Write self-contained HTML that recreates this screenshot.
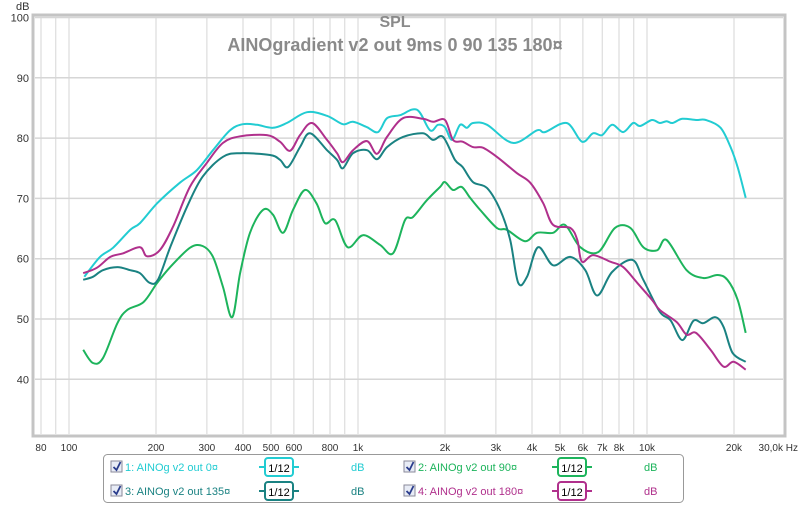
<!DOCTYPE html>
<html><head><meta charset="utf-8"><style>
body{margin:0;background:#fff;font-family:"Liberation Sans",sans-serif;}
#wrap{position:relative;width:800px;height:505px;overflow:hidden;background:#fff}
svg{position:absolute;left:0;top:0}
</style></head><body>
<div id="wrap">
<svg id="chart" width="800" height="505"></svg>
</div>
<script>
const xTickFreqs=[80,100,200,300,400,500,600,800,1000,2000,3000,4000,5000,6000,7000,8000,10000,20000,30000];
const xTickLabels=["80","100","200","300","400","500","600","800","1k","2k","3k","4k","5k","6k","7k","8k","10k","20k","30,0k Hz"];
const xGridFreqs=[80,90,100,200,300,400,500,600,700,800,900,1000,2000,3000,4000,5000,6000,7000,8000,9000,10000,20000];
const yTicks=[40,50,60,70,80,90,100];
const yTickLabels=["40","50","60","70","80","90","100"];

const f0=[113,128,142,163,176,202,242,277,315,361,400,447,508,567,666,781,887,961,1074,1173,1260,1397,1600,1775,1891,2000,2115,2256,2381,2500,2797,3435,4166,4434,5276,5955,6505,6995,7575,8272,8954,9467,10400,11070,11690,12260,13250,14780,15990,17970,19460,20590,21950];
const v0=[57.0,60.3,61.8,64.8,65.9,69.2,72.6,74.7,78.0,81.3,82.3,82.2,81.7,82.5,84.3,83.7,82.3,82.7,81.8,81.0,83.3,83.8,84.7,81.3,82.2,81.8,79.7,82.2,81.7,82.5,82.2,79.2,81.3,81.0,82.5,79.4,80.8,80.5,82.2,81.0,82.5,82.0,83.0,82.5,82.8,82.5,83.2,83.0,83.0,81.7,78.5,75.2,70.1];
const f90=[112,121,131,147,159,181,202,224,262,290,315,341,367,391,423,469,508,550,596,655,718,769,833,921,1040,1191,1322,1454,1549,1731,1923,2000,2131,2284,2443,2646,3023,3274,3780,4166,4733,5201,5878,6776,7750,8761,9706,10840,11690,13710,15650,17520,18970,20590,21950];
const v90=[44.9,42.7,43.5,49.3,51.5,52.8,56.0,58.6,61.8,62.1,60.3,55.3,50.3,57.6,64.3,68.1,67.3,64.3,68.1,71.4,69.2,65.9,66.4,61.9,63.9,62.3,60.9,66.4,66.9,69.7,71.9,72.7,71.4,71.9,70.1,68.1,65.1,64.8,62.9,64.3,64.3,65.6,61.9,61.1,65.1,65.1,61.9,61.4,63.1,58.1,56.8,57.3,56.5,53.2,47.7];
const f135=[112,121,131,147,163,176,190,203,224,256,290,341,391,496,537,573,630,682,781,846,887,961,1074,1163,1260,1431,1679,1818,1969,2165,2302,2500,2797,3104,3362,3585,3845,4198,4733,5427,6115,6722,7575,8897,9706,11070,12060,13250,14470,15650,17230,18400,19770,21950];
const v135=[56.5,57.0,58.1,58.6,58.1,57.6,56.0,56.5,61.9,68.6,73.6,76.9,77.5,77.2,76.4,75.2,78.5,80.8,78.0,76.4,75.0,77.5,78.0,76.5,78.5,80.2,80.8,79.7,80.2,76.4,75.2,72.7,71.7,68.1,63.1,56.0,57.0,61.9,58.9,60.3,58.1,53.9,57.8,59.8,56.5,51.2,49.8,46.5,49.7,49.3,50.3,48.7,44.4,42.9];
const f180=[112,125,139,154,176,186,206,229,262,300,341,391,484,537,582,630,693,781,846,887,961,1074,1163,1260,1431,1679,1818,2000,2131,2302,2500,2706,3023,3545,3944,4374,4733,5427,5739,5955,6505,7468,8272,9246,10400,11070,12660,13710,14780,16590,18400,19920,21950];
const v180=[57.6,58.5,60.3,60.9,61.9,60.4,61.4,65.3,71.9,75.9,79.2,80.3,80.5,79.4,77.9,80.5,82.5,79.7,77.5,76.0,78.0,79.5,77.4,80.2,83.3,83.2,82.7,83.0,79.7,79.4,78.5,78.4,76.9,74.2,72.6,69.2,65.6,65.1,63.1,59.5,60.6,59.5,58.6,56.0,53.2,51.5,49.5,47.4,47.7,44.9,42.1,42.9,41.6];

const series=[
 {name:"series-0deg",f:f0,v:v0,color:"#22ccd2"},
 {name:"series-90deg",f:f90,v:v90,color:"#1db45c"},
 {name:"series-135deg",f:f135,v:v135,color:"#1a8282"},
 {name:"series-180deg",f:f180,v:v180,color:"#b0308c"}
];

const PL=33,PR=785,PT=15,PB=436;
function xs(f){return 358+289*Math.log10(f/1000);}
function ys(d){return 17.5+(100-d)*6.03;}
const NS="http://www.w3.org/2000/svg";
const svg=document.getElementById('chart');
function mk(t,a,parent){const e=document.createElementNS(NS,t);for(const k in a)e.setAttribute(k,a[k]);(parent||svg).appendChild(e);return e;}

const plot=mk('rect',{x:PL,y:PT,width:PR-PL,height:PB-PT,fill:'#fff',stroke:'#c4c4c4','stroke-width':3});


xGridFreqs.forEach(f=>{const l=mk('line',{x1:xs(f),x2:xs(f),y1:PT+2,y2:PB-2,stroke:'#d6d6d6','stroke-width':1});

});
yTicks.forEach((d,i)=>{const l=mk('line',{x1:PL+2,x2:PR-2,y1:ys(d),y2:ys(d),stroke:'#d6d6d6','stroke-width':1.5});


const t=mk('text',{x:29,y:ys(d)+4,'text-anchor':'end','font-size':11,fill:'#333'});t.textContent=yTickLabels[i];

});
const yt=mk('text',{x:16,y:10,'font-size':11,fill:'#333'});yt.textContent='dB';


xTickFreqs.forEach((f,i)=>{const last=i===xTickFreqs.length-1;
const t=mk('text',{x:last?798:xs(f),y:451,'text-anchor':last?'end':'middle','font-size':10,fill:'#333'});t.textContent=xTickLabels[i];

});

const t1=mk('text',{x:395,y:27,'text-anchor':'middle','font-size':16,'font-weight':600,fill:'#8a8a8a'});t1.textContent='SPL';


const t2=mk('text',{x:395,y:51,'text-anchor':'middle','font-size':18,'font-weight':600,fill:'#8a8a8a'});t2.textContent='AINOgradient v2 out 9ms 0 90 135 180¤';



function smooth(pts){let d='M'+pts[0][0].toFixed(1)+','+pts[0][1].toFixed(1);
for(let i=0;i<pts.length-1;i++){const p0=pts[i-1]||pts[i],p1=pts[i],p2=pts[i+1],p3=pts[i+2]||p2;
const c1=[p1[0]+(p2[0]-p0[0])/6,p1[1]+(p2[1]-p0[1])/6],c2=[p2[0]-(p3[0]-p1[0])/6,p2[1]-(p3[1]-p1[1])/6];
d+='C'+c1[0].toFixed(1)+','+c1[1].toFixed(1)+' '+c2[0].toFixed(1)+','+c2[1].toFixed(1)+' '+p2[0].toFixed(1)+','+p2[1].toFixed(1);}
return d;}
series.forEach(s=>{const pts=s.f.map((f,i)=>[xs(f),ys(s.v[i])]);
const p=mk('path',{d:smooth(pts),fill:'none',stroke:s.color,'stroke-width':2,'stroke-linejoin':'round'});

});

const lg=mk('rect',{x:103.5,y:454.5,width:580,height:48,rx:4,fill:'#fff',stroke:'#999'});


const legendItems=[
 {label:'1: AINOg v2 out 0¤',color:'#22ccd2',x:111,y:467},
 {label:'2: AINOg v2 out 90¤',color:'#1db45c',x:404,y:467},
 {label:'3: AINOg v2 out 135¤',color:'#1a8282',x:111,y:491},
 {label:'4: AINOg v2 out 180¤',color:'#b0308c',x:404,y:491}];
legendItems.forEach(it=>{
 const g=mk('g',{});
 
 
 const cb=mk('rect',{x:it.x,y:it.y-6,width:11,height:11,fill:'#e8ecf6',stroke:'#8a8a9a'},g);
 
 
 const ck=mk('path',{d:`M${it.x+2.5},${it.y} l3,3 l4,-8`,fill:'none',stroke:'#2a3c8c','stroke-width':1.8},g);
 
 
 const tx=mk('text',{x:it.x+14,y:it.y+4,'font-size':11,fill:it.color},g);tx.textContent=it.label;
 
 
 const bx=it.x+152;
 const ln=mk('line',{x1:bx-4,x2:bx+36,y1:it.y,y2:it.y,stroke:it.color,'stroke-width':2},g);
 
 
 const bd=mk('rect',{x:bx+2,y:it.y-9,width:28,height:18,rx:3,fill:'#fff',stroke:it.color,'stroke-width':2},g);
 
 
 const bt=mk('text',{x:bx+16,y:it.y+5,'text-anchor':'middle','font-size':11,fill:'#000'},g);bt.textContent='1/12';
 
 
 const db=mk('text',{x:it.x+240,y:it.y+4,'font-size':11,fill:it.color},g);db.textContent='dB';
 
 
});
</script>
</body></html>
